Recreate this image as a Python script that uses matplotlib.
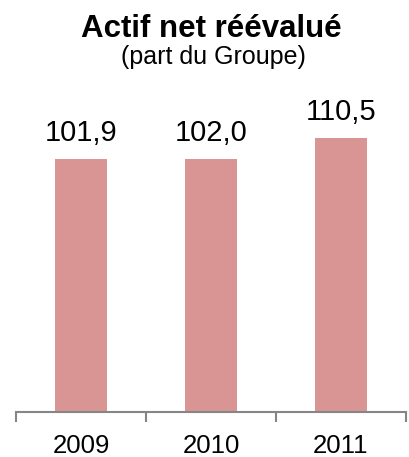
import matplotlib
matplotlib.use("Agg")
import matplotlib.pyplot as plt

# Data
years = ["2009", "2010", "2011"]
values = [101.9, 102.0, 110.5]
value_labels = ["101,9", "102,0", "110,5"]

bar_color = "#D99594"
axis_color = "#868686"

plt.rcParams["font.family"] = ["Liberation Sans", "DejaVu Sans"]

fig = plt.figure(figsize=(4.10, 4.57), dpi=100)
ax = fig.add_axes([16 / 410, 45 / 457, 390 / 410, 310 / 457])

x = range(len(years))
ax.bar(x, values, width=0.4, color=bar_color)
ax.set_xlim(-0.5, len(years) - 0.5)
ax.set_ylim(0, 125)

# value labels above the bars
for xi, v, lab in zip(x, values, value_labels):
    ax.annotate(lab, (xi, v), xytext=(0, 13), textcoords="offset points",
                ha="center", va="baseline", fontsize=21)

# axis styling
for side in ["top", "right", "left"]:
    ax.spines[side].set_visible(False)
ax.spines["bottom"].set_color(axis_color)
ax.spines["bottom"].set_linewidth(1.5)
ax.set_yticks([])
ax.set_xticks(list(x))
ax.set_xticklabels(years, fontsize=18.5)
ax.tick_params(axis="x", which="major", length=0, pad=16)
ax.set_xticks([i - 0.5 for i in range(len(years) + 1)], minor=True)
ax.tick_params(axis="x", which="minor", length=7, width=1.5, color=axis_color)

# titles
fig.text(0.515, 1 - 37 / 457, "Actif net réévalué", ha="center", va="baseline",
         fontsize=22.5, fontweight="bold")
fig.text(0.52, 1 - 64 / 457, "(part du Groupe)", ha="center", va="baseline",
         fontsize=18)

fig.savefig("out.png", dpi=100)
